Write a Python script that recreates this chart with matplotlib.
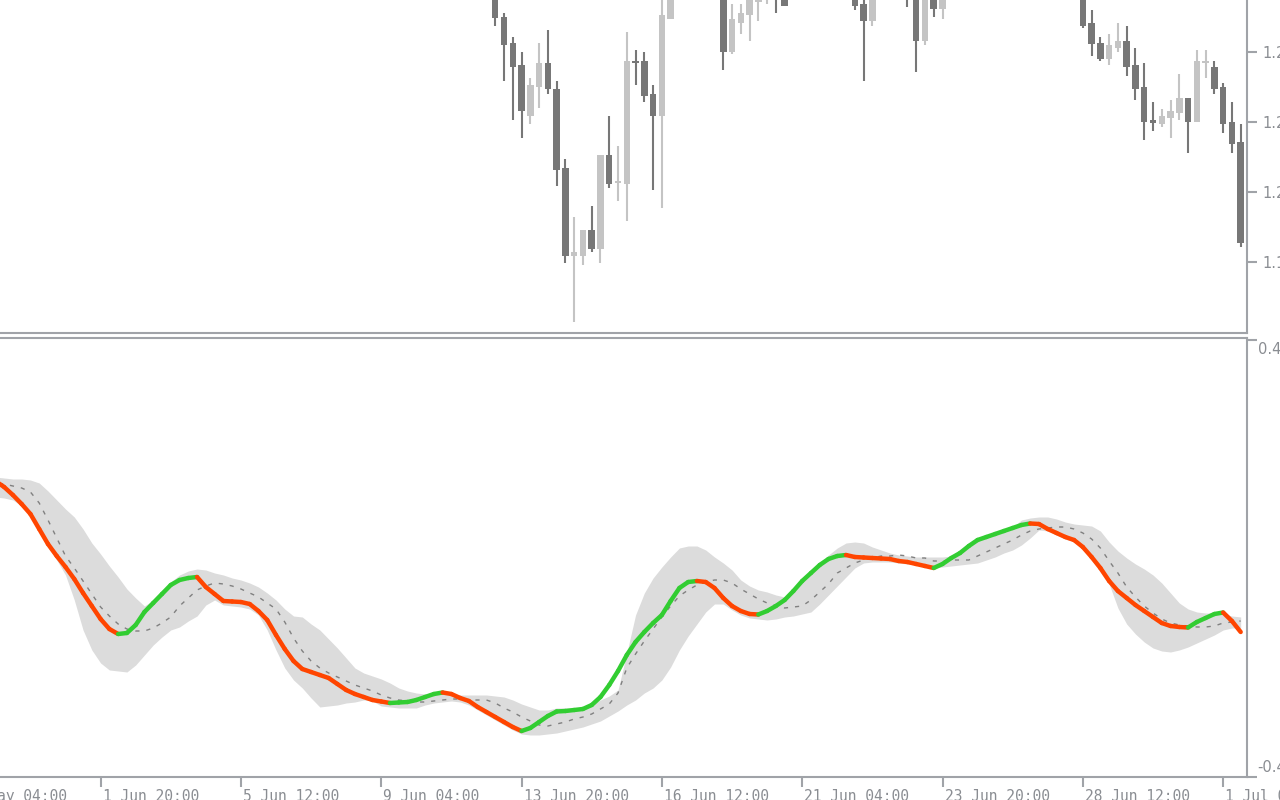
import numpy as np
import matplotlib.pyplot as plt
from matplotlib.collections import LineCollection

# ---- indicator window: one value per bar (bars 0..142), values in 1/1000 ----
osc_main = [158, 146, 130, 112, 92, 62, 32, 8, -14, -38,
            -66, -92, -118, -138, -148, -146, -130, -104, -86, -68,
            -50, -40, -36, -34, -54, -68, -82, -83, -84, -88,
            -102, -120, -150, -178, -202, -218, -224, -230, -236, -248,
            -260, -268, -274, -280, -283, -286, -285, -284, -280, -274,
            -268, -265, -268, -276, -282, -294, -304, -314, -324, -334,
            -342, -336, -324, -312, -303, -302, -300, -298, -290, -274,
            -250, -222, -190, -164, -144, -126, -110, -82, -56, -44,
            -42, -44, -56, -76, -92, -102, -108, -109, -102, -92,
            -80, -62, -42, -26, -10, 2, 8, 10, 6, 5,
            4, 3, 2, -2, -4, -8, -12, -16, -8, 4,
            14, 28, 40, 46, 52, 58, 64, 70, 73, 72,
            62, 54, 46, 40, 26, 6, -16, -42, -62, -76,
            -90, -102, -114, -126, -132, -134, -135, -124, -116, -108,
            -105, -122, -144]

osc_signal = [154, 152, 148, 144, 136, 114, 80, 44, 8, -16,
              -42, -68, -94, -112, -128, -138, -142, -142, -136, -126,
              -114, -92, -76, -60, -52, -46, -48, -52, -58, -66,
              -74, -86, -98, -124, -156, -182, -202, -216, -226, -234,
              -242, -250, -256, -262, -270, -276, -280, -282, -284, -284,
              -282, -280, -278, -278, -280, -280, -280, -286, -296, -304,
              -314, -322, -330, -332, -328, -324, -318, -314, -308, -298,
              -288, -266, -216, -188, -162, -138, -114, -92, -72, -60,
              -50, -44, -40, -40, -46, -58, -68, -78, -86, -92,
              -96, -94, -92, -80, -64, -48, -26, -16, -6, 0,
              4, 8, 8, 10, 8, 4, 4, -2, -2, 0,
              0, 0, 8, 16, 24, 32, 40, 50, 58, 62,
              64, 66, 66, 62, 54, 42, 24, -2, -26, -54,
              -74, -92, -106, -118, -126, -130, -132, -134, -134, -132,
              -126, -124, -122]

band_upper = [166, 164, 162, 162, 160, 154, 138, 120, 102, 86,
              62, 34, 12, -12, -34, -58, -76, -92, -80, -62,
              -44, -30, -22, -18, -20, -26, -30, -36, -40, -46,
              -54, -66, -80, -98, -112, -114, -128, -140, -158, -176,
              -196, -216, -226, -232, -238, -246, -256, -262, -266, -268,
              -268, -268, -270, -270, -270, -270, -270, -272, -274, -280,
              -288, -294, -300, -300, -296, -296, -296, -294, -288, -280,
              -272, -260, -186, -110, -66, -36, -14, 6, 24, 28,
              28, 20, 6, -6, -20, -40, -52, -60, -64, -70,
              -74, -60, -40, -24, -6, 10, 24, 34, 36, 34,
              26, 20, 14, 10, 8, 6, 6, 6, 6, 8,
              16, 30, 42, 48, 54, 60, 66, 80, 84, 86,
              86, 82, 76, 72, 70, 68, 58, 36, 18, 4,
              -8, -18, -30, -46, -66, -86, -98, -104, -106, -106,
              -108, -112, -114]

band_lower = [126, 124, 120, 108, 88, 58, 26, 0, -30, -80,
              -140, -180, -206, -220, -222, -224, -210, -190, -170, -154,
              -140, -134, -122, -112, -90, -80, -90, -92, -94, -98,
              -110, -140, -180, -216, -240, -256, -276, -294, -292, -290,
              -286, -284, -280, -282, -292, -294, -296, -296, -296, -290,
              -286, -284, -282, -284, -290, -300, -310, -320, -330, -340,
              -348, -350, -350, -348, -346, -342, -338, -334, -328, -322,
              -312, -302, -290, -280, -266, -256, -240, -214, -180, -152,
              -128, -104, -88, -88, -100, -110, -116, -118, -120, -118,
              -114, -112, -108, -104, -88, -70, -52, -34, -16, -6,
              -4, -4, -4, -6, -8, -10, -14, -16, -14, -12,
              -10, -8, -6, 0, 6, 14, 20, 30, 44, 60,
              58, 50, 42, 36, 22, 0, -24, -48, -96, -128,
              -148, -164, -176, -182, -184, -180, -174, -166, -158, -150,
              -140, -136, -136]

# ---- price window: candles that reach into the visible range ----
candle_bar = [57, 58, 59, 60, 61, 62, 63, 64, 65, 66, 67, 68, 69, 70, 71, 72,
              73, 74, 75, 76, 77, 83, 84, 85, 86, 87, 88, 89, 90, 98, 99, 100,
              104, 105, 106, 107, 108, 124, 125, 126, 127, 128, 129, 130, 131,
              132, 133, 134, 135, 136, 137, 138, 139, 140, 141, 142]
candle_open = [1.2215, 1.2183, 1.2157, 1.2135, 1.2084, 1.2113, 1.2137, 1.2111,
               1.2032, 1.1944, 1.1944, 1.1970, 1.1951, 1.2045, 1.2017, 1.2016,
               1.2139, 1.2139, 1.2106, 1.2084, 1.2181, 1.2210, 1.2148, 1.2177,
               1.2185, 1.2198, 1.2205, 1.2215, 1.2205, 1.2205, 1.2196, 1.2179,
               1.2215, 1.2210, 1.2159, 1.2205, 1.2191, 1.2210, 1.2177, 1.2157,
               1.2141, 1.2152, 1.2159, 1.2135, 1.2113, 1.2080, 1.2076, 1.2082,
               1.2087, 1.2102, 1.2078, 1.2137, 1.2133, 1.2113, 1.2078, 1.2058]
candle_high = [1.2225, 1.2187, 1.2163, 1.2148, 1.2122, 1.2157, 1.2170, 1.2119,
               1.2041, 1.1983, 1.1970, 1.1994, 1.2045, 1.2084, 1.2054, 1.2168,
               1.2150, 1.2148, 1.2115, 1.2210, 1.2230, 1.2220, 1.2196, 1.2196,
               1.2212, 1.2215, 1.2220, 1.2222, 1.2212, 1.2212, 1.2205, 1.2218,
               1.2225, 1.2218, 1.2215, 1.2212, 1.2212, 1.2218, 1.2190, 1.2163,
               1.2166, 1.2177, 1.2174, 1.2152, 1.2137, 1.2098, 1.2091, 1.2100,
               1.2126, 1.2102, 1.2150, 1.2150, 1.2139, 1.2117, 1.2098, 1.2076]
candle_low = [1.2174, 1.2119, 1.2080, 1.2062, 1.2076, 1.2092, 1.2106, 1.2014,
              1.1937, 1.1878, 1.1935, 1.1948, 1.1937, 1.2012, 1.1999, 1.1979,
              1.2115, 1.2098, 1.2010, 1.1992, 1.2181, 1.2130, 1.2146, 1.2166,
              1.2159, 1.2179, 1.2196, 1.2187, 1.2194, 1.2190, 1.2119, 1.2174,
              1.2193, 1.2128, 1.2155, 1.2183, 1.2181, 1.2172, 1.2144, 1.2139,
              1.2135, 1.2148, 1.2124, 1.2100, 1.2060, 1.2069, 1.2073, 1.2062,
              1.2080, 1.2047, 1.2078, 1.2122, 1.2106, 1.2067, 1.2047, 1.1953]
candle_close = [1.2182, 1.2155, 1.2133, 1.2089, 1.2115, 1.2137, 1.2111, 1.2030,
                1.1944, 1.1948, 1.1970, 1.1951, 1.2045, 1.2016, 1.2019, 1.2139,
                1.2137, 1.2104, 1.2084, 1.2185, 1.2220, 1.2148, 1.2181, 1.2187,
                1.2205, 1.2208, 1.2215, 1.2205, 1.2194, 1.2194, 1.2179, 1.2210,
                1.2203, 1.2159, 1.2210, 1.2191, 1.2205, 1.2174, 1.2156, 1.2141,
                1.2155, 1.2159, 1.2133, 1.2111, 1.2078, 1.2077, 1.2084, 1.2089,
                1.2102, 1.2078, 1.2139, 1.2139, 1.2111, 1.2076, 1.2056, 1.1957]

price_ticks = [1.2148, 1.2078, 1.2008, 1.1938]
osc_ticks = [0.440, -0.433]
osc_labels = ['0.4400', '-0.4330']
date_bars = [-4, 12, 28, 44, 60, 76, 92, 108, 124, 140]
date_labels = ['29 May 04:00', '1 Jun 20:00', '5 Jun 12:00', '9 Jun 04:00',
               '13 Jun 20:00', '16 Jun 12:00', '21 Jun 04:00', '23 Jun 20:00',
               '28 Jun 12:00', '1 Jul 04:00']

# colours
frame_col = '#a0a3a8'
text_col = '#8a8d92'
bear_col = '#777777'
bull_col = '#c4c4c4'
up_col = '#32cd32'
down_col = '#ff4500'
band_col = '#dcdcdc'

main = np.array(osc_main) / 1000
signal = np.array(osc_signal) / 1000
upper = np.array(band_upper) / 1000
lower = np.array(band_lower) / 1000
x = np.arange(len(main))

W, H = 1280, 800
fig = plt.figure(figsize=(W / 100, H / 100), dpi=100)
fig.patch.set_facecolor('white')
right = 1247 / W
ax1 = fig.add_axes([0, 1 - 333 / H, right, 333 / H])
ax2 = fig.add_axes([0, 1 - 777 / H, right, (777 - 338) / H])

xlim = (0.53, 142.72)

# ---- candles ----
o = np.array(candle_open)
c = np.array(candle_close)
cols = np.where(c > o, bull_col, bear_col)
ax1.vlines(candle_bar, candle_low, candle_high, colors=cols, linewidth=1.5)
body_bot = np.minimum(o, c)
body_h = np.maximum(np.abs(c - o), 0.00022)
ax1.bar(candle_bar, body_h, bottom=body_bot, width=0.74, color=cols, linewidth=0)
ax1.set_xlim(*xlim)
ax1.set_ylim(1.1867, 1.2200)

# ---- oscillator ----
ax2.fill_between(x, lower, upper, color=band_col, linewidth=0)
ax2.plot(x, signal, color='#808080', lw=1.0, dashes=(3, 5))
pts = np.column_stack([x, main])
segs = np.stack([pts[:-1], pts[1:]], axis=1)
seg_cols = np.where(np.diff(main) > 0, up_col, down_col)
lc = LineCollection(segs, colors=seg_cols, linewidths=3.2, capstyle='round')
ax2.add_collection(lc)
ax2.set_xlim(*xlim)
ax2.set_ylim(-0.434, 0.444)

# ---- frames / ticks ----
for ax in (ax1, ax2):
    ax.set_facecolor('white')
    ax.spines['left'].set_visible(False)
    for s in ('top', 'right', 'bottom'):
        ax.spines[s].set_color(frame_col)
        ax.spines[s].set_linewidth(1.5)
    ax.yaxis.tick_right()
    ax.tick_params(axis='both', direction='out', length=7, width=1.5,
                   color=frame_col, labelcolor=text_col, labelsize=10.5)
ax1.spines['top'].set_visible(False)

ax1.set_xticks([])
ax1.set_yticks(price_ticks)
ax1.set_yticklabels([f'{t:.4f}' for t in price_ticks])
ax1.tick_params(axis='y', pad=4)

ax2.set_xticks([b for b in date_bars if xlim[0] <= b <= xlim[1]])
ax2.set_xticklabels([])
ax2.set_yticks(osc_ticks)
ax2.set_yticklabels([])

for b, lab in zip(date_bars, date_labels):
    ax2.annotate(lab, xy=(b, 0), xycoords=('data', 'axes fraction'),
                 xytext=(2, -12), textcoords='offset pixels', ha='left', va='top',
                 fontsize=10.5, color=text_col, family='DejaVu Sans Mono',
                 annotation_clip=False)

ax2.annotate(osc_labels[0], xy=(1, osc_ticks[0]), xycoords=('axes fraction', 'data'),
             xytext=(11, -2), textcoords='offset pixels', ha='left', va='top',
             fontsize=10.5, color=text_col, annotation_clip=False)
ax2.annotate(osc_labels[1], xy=(1, osc_ticks[1]), xycoords=('axes fraction', 'data'),
             xytext=(10, 2), textcoords='offset pixels', ha='left', va='bottom',
             fontsize=10.5, color=text_col, annotation_clip=False)

fig.savefig('out.png', dpi=100, facecolor='white')
